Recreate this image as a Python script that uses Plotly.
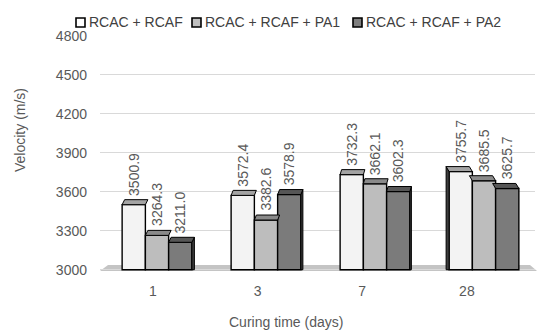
import plotly.graph_objects as go

# ---- data ----
curing_days = ["1", "3", "7", "28"]
series_names = ["RCAC + RCAF", "RCAC + RCAF + PA1", "RCAC + RCAF + PA2"]
velocity_plain = [3500.9, 3572.4, 3732.3, 3755.7]
velocity_pa1 = [3264.3, 3382.6, 3662.1, 3685.5]
velocity_pa2 = [3211.0, 3578.9, 3602.3, 3625.7]
y_ticks = [3000, 3300, 3600, 3900, 4200, 4500, 4800]

series_values = [velocity_plain, velocity_pa1, velocity_pa2]

# ---- styling / layout constants ----
W, H = 539, 334
L, R, T, B = 100, 4, 36, 63
PLOT_W, PLOT_H = W - L - R, H - T - B
X_RANGE = [-0.523, 3.468]
Y_RANGE = [2990, 4800]
PX_X = PLOT_W / (X_RANGE[1] - X_RANGE[0])
PX_Y = (PLOT_H) / (Y_RANGE[1] - Y_RANGE[0])
BASE = 3000

FONT = "Liberation Sans, Arial, sans-serif"
TXT = "#595959"
front_colors = ["#f3f3f3", "#bdbdbd", "#7b7b7b"]
top_colors = ["#a3a3a3", "#8a8a8a", "#565656"]
side_colors = ["#5a5a5a", "#555555", "#3e3e3e"]
legend_fill = ["#ffffff", "#bfbfbf", "#7f7f7f"]

BAR_GAP = 0.36
BARW = (1 - BAR_GAP) / 3
TOP_DEPTH_PX = 5
# horizontal skew of the 3-D depth per cluster (perspective)
depth_px = [2.5, 2.0, 1.5, -3.0]

# category tick placement (perspective scale of the floor axis)
TICK_SCALE, TICK_SHIFT = 0.96, -0.037

xpos = list(range(len(curing_days)))
fig = go.Figure()

# front faces of the columns
for s, (name, vals) in enumerate(zip(series_names, series_values)):
    fig.add_trace(go.Bar(
        x=xpos, y=[v - BASE for v in vals], base=BASE, name=name,
        marker=dict(color=front_colors[s], line=dict(color="black", width=1.4)),
        showlegend=False, hoverinfo="skip",
    ))

dy = TOP_DEPTH_PX / PX_Y

# side faces (visible on one end of each cluster)
sx, sy = [], []
for i in xpos:
    dx = depth_px[i] / PX_X
    if dx > 0:
        s = 2
        xe = i + (s - 1) * BARW + BARW / 2
    else:
        s = 0
        xe = i + (s - 1) * BARW - BARW / 2
    v = series_values[s][i]
    sx += [xe, xe, xe + dx, xe + dx, xe, None]
    sy += [BASE, v, v + dy, BASE, BASE, None]
fig.add_trace(go.Scatter(
    x=sx, y=sy, mode="lines", fill="toself", fillcolor=side_colors[2],
    line=dict(color="black", width=1), showlegend=False, hoverinfo="skip",
))

# top faces of the columns
for s, vals in enumerate(series_values):
    tx, ty = [], []
    for i, v in enumerate(vals):
        dx = depth_px[i] / PX_X
        xc = i + (s - 1) * BARW
        x0, x1 = xc - BARW / 2, xc + BARW / 2
        tx += [x0, x1, x1 + dx, x0 + dx, x0, None]
        ty += [v, v, v + dy, v + dy, v, None]
    fig.add_trace(go.Scatter(
        x=tx, y=ty, mode="lines", fill="toself", fillcolor=top_colors[s],
        line=dict(color="black", width=1), showlegend=False, hoverinfo="skip",
    ))

# value labels above each column
annotations = []
for s, vals in enumerate(series_values):
    for i, v in enumerate(vals):
        annotations.append(dict(
            x=i + (s - 1) * BARW, y=v, xref="x", yref="y",
            text=f"{v:.1f}", showarrow=False, textangle=-90,
            xanchor="center", yanchor="bottom", yshift=7,
            font=dict(family=FONT, size=14, color=TXT),
        ))

def px_to_paper(px, py):
    return (px - L) / PLOT_W, (H - B - py) / PLOT_H

# axis titles
ax, ay = px_to_paper(286, 322)
annotations.append(dict(x=ax, y=ay, xref="paper", yref="paper", text="Curing time (days)",
                        showarrow=False, xanchor="center", yanchor="middle",
                        font=dict(family=FONT, size=14, color=TXT)))
ax, ay = px_to_paper(20, 130)
annotations.append(dict(x=ax, y=ay, xref="paper", yref="paper", text="Velocity (m/s)",
                        showarrow=False, textangle=-90, xanchor="center", yanchor="middle",
                        font=dict(family=FONT, size=14, color=TXT)))

# legend row
shapes = []
legend_left = [76, 192, 353]
for s, name in enumerate(series_names):
    x0, y0 = px_to_paper(legend_left[s], 27)
    x1, y1 = px_to_paper(legend_left[s] + 9, 18)
    shapes.append(dict(type="rect", xref="paper", yref="paper", x0=x0, x1=x1, y0=y0, y1=y1,
                       fillcolor=legend_fill[s], line=dict(color="black", width=1.6)))
    tx, ty = px_to_paper(legend_left[s] + 11, 22.5)
    annotations.append(dict(x=tx, y=ty, xref="paper", yref="paper", text=name,
                            showarrow=False, xanchor="left", yanchor="middle",
                            font=dict(family=FONT, size=14, color="#404040")))

# floor of the 3-D plot
fx0, fy0 = px_to_paper(100, 271)
fx1, _ = px_to_paper(537, 271)
fx2, fy2 = px_to_paper(530, 265)
fx3, _ = px_to_paper(108, 265)
shapes.append(dict(type="path", xref="paper", yref="paper", layer="below",
                   path=f"M {fx0},{fy0} L {fx1},{fy0} L {fx2},{fy2} L {fx3},{fy2} Z",
                   fillcolor="#c4c4c4", line=dict(width=0)))

fig.update_layout(
    width=W, height=H,
    margin=dict(l=L, r=R, t=T, b=B, autoexpand=False),
    paper_bgcolor="white", plot_bgcolor="white",
    barmode="group", bargap=BAR_GAP, bargroupgap=0,
    font=dict(family=FONT, size=14, color=TXT),
    annotations=annotations, shapes=shapes, showlegend=False,
)
fig.update_xaxes(
    range=X_RANGE, showgrid=False, zeroline=False, showline=False,
    tickmode="array",
    tickvals=[TICK_SHIFT + TICK_SCALE * i for i in xpos], ticktext=curing_days,
    ticks="", ticklabelstandoff=10, tickfont=dict(size=14, color=TXT),
)
fig.update_yaxes(
    range=Y_RANGE, tickmode="array", tickvals=y_ticks,
    showgrid=True, gridcolor="#d9d9d9", gridwidth=1,
    zeroline=False, showline=False, ticks="", ticklabelstandoff=12,
    tickfont=dict(size=14, color=TXT),
)

fig.write_html("out.html")
